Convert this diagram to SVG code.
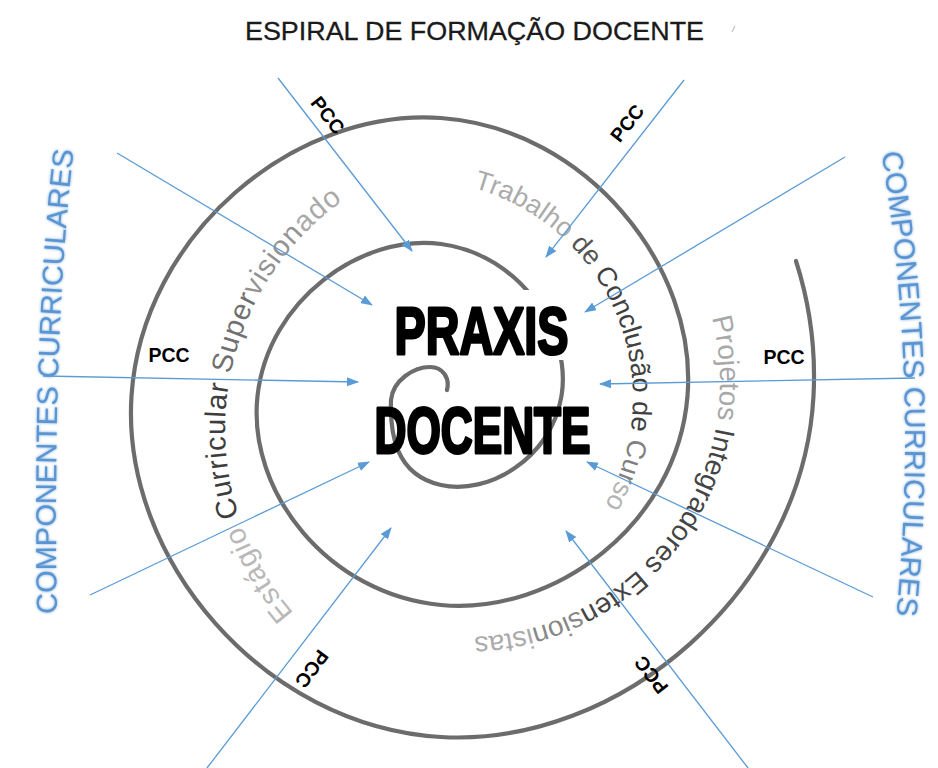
<svg xmlns="http://www.w3.org/2000/svg" width="938" height="768" viewBox="0 0 938 768">
<defs>
<style>
.arrow{fill:none;stroke:#5b9bd5;stroke-width:1.3;marker-end:url(#ah)}
.pcc{font-family:"Liberation Sans",Arial,sans-serif;font-weight:bold;font-size:19.5px;fill:#000;text-anchor:middle}
.arc{font-family:"Liberation Sans",Arial,sans-serif}
.comp{font-family:"Liberation Sans",Arial,sans-serif;font-size:29px;fill:#5a95d2}
.big{font-family:"Liberation Sans Narrow","Liberation Sans",Arial,sans-serif;font-weight:bold;fill:#000;stroke:#000;stroke-width:3;stroke-linejoin:round;text-anchor:middle}
.spiral{fill:none;stroke:#6c6c6c;stroke-width:4.2;stroke-linecap:round}
</style>
<marker id="ah" viewBox="0 0 12 9" refX="11" refY="4.5" markerWidth="12" markerHeight="9" markerUnits="userSpaceOnUse" orient="auto"><path d="M0,0 L12,4.5 L0,9 z" fill="#5b9bd5"/></marker>
<filter id="glow" x="-20%" y="-5%" width="140%" height="110%">
<feGaussianBlur in="SourceGraphic" stdDeviation="1.8" result="b"/>
<feComponentTransfer in="b" result="b2"><feFuncA type="linear" slope="0.8"/></feComponentTransfer>
<feMerge><feMergeNode in="b2"/><feMergeNode in="SourceGraphic"/></feMerge>
</filter>
<filter id="soft" x="-5%" y="-5%" width="110%" height="110%">
<feGaussianBlur stdDeviation="0.6"/>
</filter>
<path id="p1" d="M 325.0 643.5 A 280 280 0 0 1 456.4 153.3"/>
<path id="p2" d="M 452.9 183.3 A 218 218 0 0 1 582.0 538.1"/>
<path id="p3" d="M 704.6 294.8 A 255 255 0 0 1 420.7 633.1"/>
<path id="pl" d="M 57 616 Q 52 330 74 148"/>
<path id="pr" d="M 880 145 Q 920 378 896 620"/>
</defs>
<rect width="938" height="768" fill="#fff"/>

<g id="title">
<text x="474.5" y="40" text-anchor="middle" textLength="459" lengthAdjust="spacingAndGlyphs" font-family="Liberation Sans, Arial, sans-serif" font-size="26" fill="#1a1a1a" stroke="#1a1a1a" stroke-width="0.3">ESPIRAL DE FORMAÇÃO DOCENTE</text>
<line x1="732" y1="32" x2="735" y2="26" stroke="#c4c4c4" stroke-width="1.2"/>
</g>

<g id="spiral" filter="url(#soft)">
<path class="spiral" d="M 447 390 C 450 378 443 367 430 367 C 414 367 393 380 391 400 C 390 432 394.4 474.5 441 485 C 487.6 495.5 551 459.1 561.5 396 C 572 332.9 520.6 254.5 441 244 C 361.4 233.5 268 299.9 257.5 396 C 247 492.1 328.4 594.5 441 605 C 553.6 615.5 677 525.1 687.5 396 C 698 266.9 586.6 128.5 441 118 C 295.4 107.5 142 233.9 131.5 396 C 121 558.1 262.5 726.5 441 737 C 619.5 747.5 803 591 813.5 396 C 815.9 350.9 810 304.8 796 261"/>
</g>

<g id="label-estagio">
<text class="arc" font-size="29" letter-spacing="0.9"><textPath href="#p1" startOffset="43.5"><tspan fill="#b8b8b8">Estágio </tspan><tspan fill="#3d3d3d">Curricular </tspan><tspan fill="#707070">Super</tspan><tspan fill="#939393">vision</tspan><tspan fill="#aaaaaa">ado</tspan></textPath></text>
</g>

<g id="label-tcc">
<text class="arc" font-size="27"><textPath href="#p2" startOffset="20.9"><tspan fill="#ababab">Trabalho</tspan><tspan fill="#555"> de </tspan><tspan fill="#404040">Conclusão de </tspan><tspan fill="#808080">Cur</tspan><tspan fill="#b4b4b4">so</tspan></textPath></text>
</g>

<g id="label-projetos">
<text class="arc" font-size="28"><textPath href="#p3" startOffset="24"><tspan fill="#a8a8a8">Projetos </tspan><tspan fill="#444">Integradores Exten</tspan><tspan fill="#888">sion</tspan><tspan fill="#ababab">istas</tspan></textPath></text>
</g>

<g id="comp-left" filter="url(#glow)">
<text class="comp"><textPath href="#pl" startOffset="2">COMPONENTES CURRICULARES</textPath></text>
</g>
<g id="comp-right" filter="url(#glow)">
<text class="comp"><textPath href="#pr" startOffset="8">COMPONENTES CURRICULARES</textPath></text>
</g>

<g id="connectors">
<line class="arrow" x1="278" y1="78" x2="412" y2="251"/>
<line class="arrow" x1="684" y1="80" x2="546" y2="257"/>
<line class="arrow" x1="845" y1="157" x2="585" y2="312"/>
<line class="arrow" x1="915" y1="378" x2="600" y2="384"/>
<line class="arrow" x1="873" y1="597" x2="587" y2="462"/>
<line class="arrow" x1="748" y1="768" x2="566" y2="531"/>
<line class="arrow" x1="207" y1="768" x2="391" y2="528"/>
<line class="arrow" x1="90" y1="595" x2="369" y2="462"/>
<line class="arrow" x1="43" y1="376" x2="358" y2="382"/>
<line class="arrow" x1="117" y1="153" x2="372" y2="305"/>
</g>

<g id="pcc-labels">
<text class="pcc" transform="translate(328 115) rotate(52)" dy="0.36em">PCC</text>
<text class="pcc" transform="translate(627 123) rotate(-52)" dy="0.36em">PCC</text>
<text class="pcc" transform="translate(169 355)" dy="0.36em">PCC</text>
<text class="pcc" transform="translate(784 357)" dy="0.36em">PCC</text>
<text class="pcc" transform="translate(312 669) rotate(127)" dy="0.36em">PCC</text>
<text class="pcc" transform="translate(651 675) rotate(232)" dy="0.36em">PCC</text>
</g>

<g id="praxis-docente">
<rect x="385" y="290" width="195" height="70" fill="#fff"/>
<text class="big" x="481.5" y="353.5" font-size="66" textLength="174" lengthAdjust="spacingAndGlyphs">PRAXIS</text>
<text class="big" x="482.5" y="452.5" font-size="64" textLength="216" lengthAdjust="spacingAndGlyphs">DOCENTE</text>
</g>
</svg>
